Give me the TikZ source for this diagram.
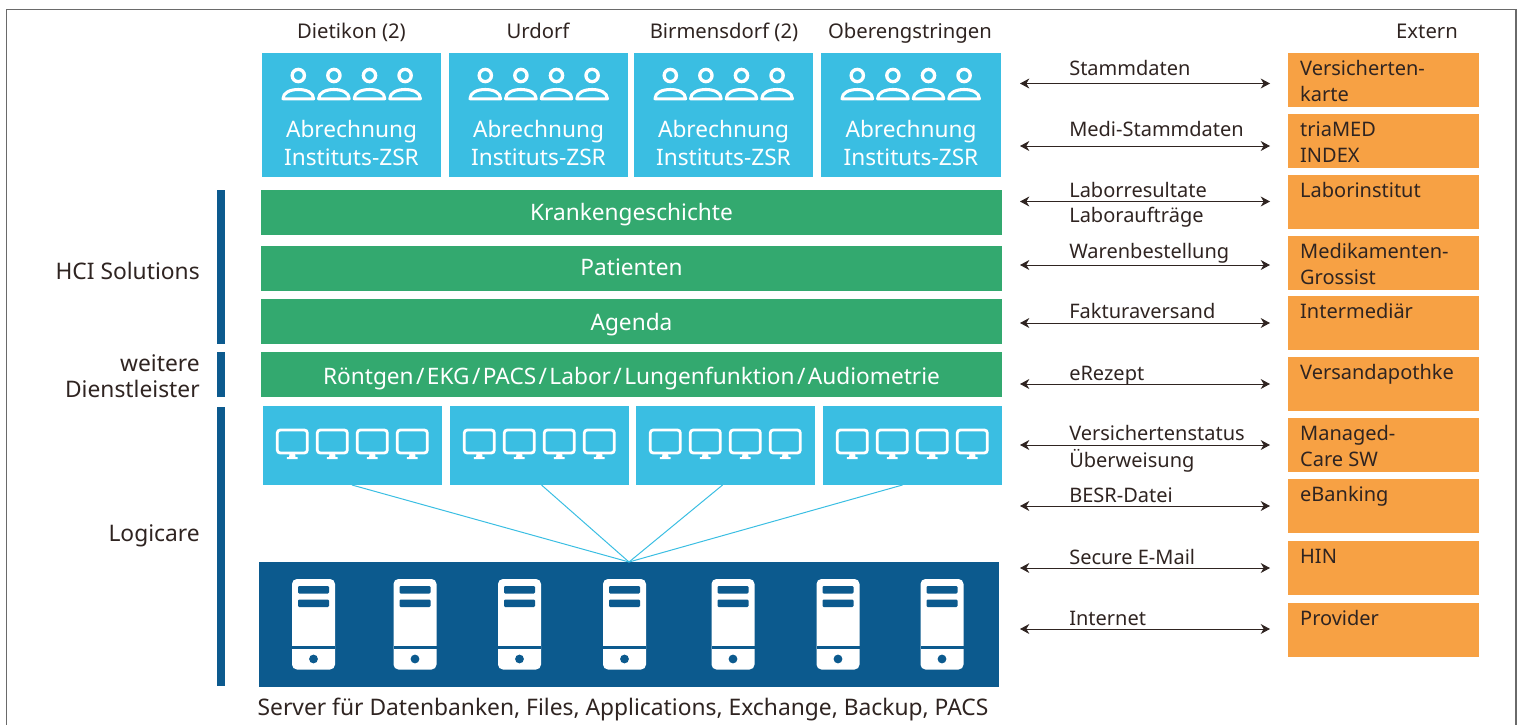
\documentclass[tikz,border=0pt]{standalone}
\usepackage{fontspec}
\setmainfont{Noto Sans}
\usetikzlibrary{arrows.meta,calc}
\definecolor{cyanbox}{HTML}{3ABEE2}
\definecolor{greenbox}{HTML}{33A96F}
\definecolor{orangebox}{HTML}{F7A144}
\definecolor{navybox}{HTML}{0C5A8E}
\definecolor{inktext}{HTML}{2F2421}
\definecolor{framegray}{HTML}{6A6A6A}
\newcommand{\rectnode}[7]{\node[rectbase,#6,minimum width={(#4-#2)*0.75pt},minimum height={(#5-#3)*0.75pt}] (#1) at ({(#2+#4)/2},{(#3+#5)/2}) {#7};}
\newcommand{\extnode}[3]{\rectnode{#1}{1288}{#2}{1479}{#2+54}{extbox}{\parbox[c][40.5pt][t]{125pt}{\fontsize{15}{19.5}\selectfont\rule{0pt}{16.5pt}#3}}}
\newcommand{\sitebox}[3]{\rectnode{#1}{#2}{53}{#3}{177}{cyanfill}{\parbox[c][93pt][t]{134pt}{\centering\fontsize{17}{21.4}\selectfont\rule{0pt}{63pt}Abrechnung\\Instituts-ZSR}}}
\newcommand{\slashsep}{\kern1.8pt/\kern1.8pt}
\tikzset{
  rectbase/.style={inner sep=0pt,outer sep=0pt,draw=none},
  cyanfill/.style={fill=cyanbox,text=white},
  greenbar/.style={fill=greenbox,text=white,text depth=0pt,font=\fontsize{17}{20}\selectfont},
  navyfill/.style={fill=navybox},
  extbox/.style={fill=orangebox,text=inktext},
  sidebar/.style={fill=navybox},
  caption/.style={text=inktext,inner sep=0pt,font=\fontsize{15.2}{19}\selectfont},
  flowtext/.style={text=inktext,inner sep=0pt,anchor=base west,font=\fontsize{15}{19}\selectfont},
  sidetext/.style={text=inktext,inner sep=0pt,anchor=base east,font=\fontsize{17.1}{20}\selectfont},
  flow/.style={draw=inktext,line width=0.75pt,{Stealth[length=7pt,width=7.5pt]}-{Stealth[length=7pt,width=7.5pt]}},
  link/.style={draw=cyanbox,line width=0.75pt},
  personicon/.pic={
    \draw[white,line width=2.5pt] (0,0) circle [radius=4.6pt];
    \draw[white,line width=2.3pt,line join=round] (-15.3,23.3) .. controls (-15.3,17) and (-8,14) .. (0,14) .. controls (8,14) and (15.3,17) .. (15.3,23.3) -- cycle;
  },
  monitoricon/.pic={
    \draw[white,line width=2.1pt,rounded corners=2.2pt] (-15,1) rectangle (15,24);
    \fill[white] (-2.8,25) -- (2.8,25) -- (3.2,28) -- (5.4,28) -- (5.4,30) -- (-5.4,30) -- (-5.4,28) -- (-3.2,28) -- cycle;
  },
  servericon/.pic={
    \fill[white,rounded corners=3.7pt] (-21.5,0) rectangle (21.5,90.5);
    \fill[navybox,rounded corners=0.8pt] (-15.5,7) rectangle (15.5,14.5);
    \fill[navybox,rounded corners=0.8pt] (-15.5,20.5) rectangle (15.5,28);
    \fill[navybox] (-21.5,67) rectangle (21.5,70);
    \fill[navybox] (0,80) circle [radius=3.3pt];
  }
}
\begin{document}
\begin{tikzpicture}[x=0.75pt,y=-0.75pt]
\useasboundingbox (0,0) rectangle (1522,725);
\draw[framegray,line width=0.9pt] (6.5,725) -- (6.5,9.5) -- (1516,9.5) -- (1516,725);

% site headings
\node[caption,anchor=base] (h1) at (351.5,38) {Dietikon (2)};
\node[caption,anchor=base] (h2) at (538,38) {Urdorf};
\node[caption,anchor=base] (h3) at (724,38) {Birmensdorf (2)};
\node[caption,anchor=base] (h4) at (910,38) {Oberengstringen};
\node[caption,anchor=base] (h5) at (1427,38) {Extern};

% site boxes
\sitebox{s1}{262}{441}
\sitebox{s2}{449}{628}
\sitebox{s3}{634}{813}
\sitebox{s4}{821}{1001}
\foreach \bx in {262,449,634,821}{
  \foreach \dx in {36.3,71.9,107.5,143.1}{
    \pic at ({\bx+\dx},75.5) {personicon};
  }
}

% green layers
\rectnode{g1}{261}{190}{1002}{235}{greenbar,text height=12.3pt}{Krankengeschichte}
\rectnode{g2}{261}{246}{1002}{291}{greenbar,text height=10.8pt}{Patienten}
\rectnode{g3}{261}{299}{1002}{344}{greenbar,text height=13.8pt}{Agenda}
\rectnode{g4}{261}{352}{1002}{397}{greenbar,text height=14.25pt}{Röntgen\slashsep EKG\slashsep PACS\slashsep Labor\slashsep Lungenfunktion\slashsep Audiometrie}

% workstation boxes
\rectnode{m1}{263}{406}{442}{485}{cyanfill}{}
\rectnode{m2}{450}{406}{629}{485}{cyanfill}{}
\rectnode{m3}{636}{406}{815}{485}{cyanfill}{}
\rectnode{m4}{823}{406}{1002}{485}{cyanfill}{}
\foreach \bx in {263,450,636,823}{
  \foreach \dx in {29.3,69.3,109.3,149.3}{
    \pic at ({\bx+\dx},429) {monitoricon};
  }
}

% server box
\rectnode{srv}{259}{562}{999}{687}{navyfill}{}
\foreach \sx in {313.5,415,519.5,624.5,733,838,942}{
  \pic at (\sx,579) {servericon};
}
\node[caption,anchor=base,font=\fontsize{17.1}{20}\selectfont] (srvcap) at (623,715) {Server für Datenbanken, Files, Applications, Exchange, Backup, PACS};

% links
\draw[link] ([xshift=-0.4pt]m1.south) -- (srv.north);
\draw[link] ([xshift=1.5pt]m2.south) -- (srv.north);
\draw[link] ([xshift=-2.2pt]m3.south) -- (srv.north);
\draw[link] ([xshift=-7.5pt]m4.south) -- (srv.north);

% side bars
\rectnode{b1}{217}{190}{225}{344}{sidebar}{}
\rectnode{b2}{217}{352}{225}{397}{sidebar}{}
\rectnode{b3}{217}{407}{225}{686}{sidebar}{}
\node[sidetext] (t1) at (200,279) {HCI Solutions};
\node[sidetext] (t2) at (200,371) {weitere};
\node[sidetext] (t3) at (200,397) {Dienstleister};
\node[sidetext] (t4) at (200,541) {Logicare};

% external boxes
\extnode{e1}{53}{Versicherten-\\karte}
\extnode{e2}{114}{triaMED\\INDEX}
\extnode{e3}{175}{Laborinstitut}
\extnode{e4}{236}{Medikamenten-\\Grossist}
\extnode{e5}{296}{Intermediär}
\extnode{e6}{357}{Versandapothke}
\extnode{e7}{418}{Managed-\\Care SW}
\extnode{e8}{479}{eBanking}
\extnode{e9}{541}{HIN}
\extnode{e10}{603}{Provider}

% flows
\foreach \n/\y in {1/83.5,2/146,3/201.5,4/265,5/323,6/384,7/445,8/506,9/568,10/629}{
  \coordinate (fl\n) at (1020,\y);
  \coordinate (fr\n) at (1270,\y);
  \draw[flow] (fl\n) -- (fr\n);
}
\node[flowtext] (l1) at (1069,75) {Stammdaten};
\node[flowtext] (l2) at (1069,136) {Medi-Stammdaten};
\node[flowtext] (l3) at (1069,197) {Laborresultate};
\node[flowtext] (l3b) at (1069,222) {Laboraufträge};
\node[flowtext] (l4) at (1069,258) {Warenbestellung};
\node[flowtext] (l5) at (1069,318) {Fakturaversand};
\node[flowtext] (l6) at (1069,380) {eRezept};
\node[flowtext] (l7) at (1069,440) {Versichertenstatus};
\node[flowtext] (l7b) at (1069,467) {Überweisung};
\node[flowtext] (l8) at (1069,502) {BESR-Datei};
\node[flowtext] (l9) at (1069,564) {Secure E-Mail};
\node[flowtext] (l10) at (1069,625) {Internet};
\end{tikzpicture}
\end{document}
